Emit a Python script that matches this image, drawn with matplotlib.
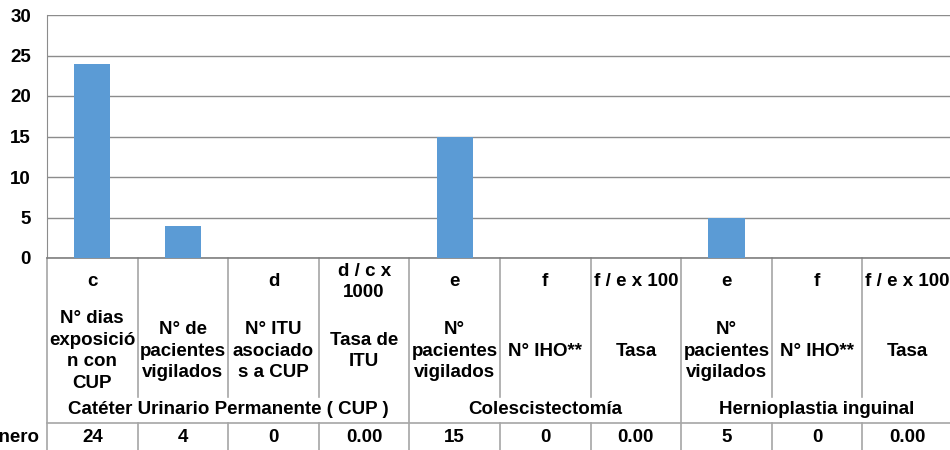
import matplotlib
matplotlib.use("Agg")
import matplotlib.pyplot as plt
from matplotlib import transforms

# datos
valores = [24, 4, 0, 0, 15, 0, 0, 5, 0, 0]
fila_enero = ["24", "4", "0", "0.00", "15", "0", "0.00", "5", "0", "0.00"]
codigos = ["c", "", "d", "d / c x\n1000", "e", "f", "f / e x 100", "e", "f", "f / e x 100"]
etiquetas = [
    "N° dias\nexposició\nn con\nCUP",
    "N° de\npacientes\nvigilados",
    "N° ITU\nasociado\ns a CUP",
    "Tasa de\nITU",
    "N°\npacientes\nvigilados",
    "N° IHO**",
    "Tasa",
    "N°\npacientes\nvigilados",
    "N° IHO**",
    "Tasa",
]
grupos = ["Catéter Urinario Permanente ( CUP )", "Colescistectomía", "Hernioplastia inguinal"]
grupo_cols = [(0, 3), (4, 6), (7, 9)]
fila_nombre = "Enero"

plt.rcParams['font.family'] = ['Liberation Sans', 'DejaVu Sans']
plt.rcParams['font.weight'] = 'bold'

W, H = 950, 450
fig = plt.figure(figsize=(W / 100, H / 100), dpi=100)

# area del grafico en pixeles
x0, x1 = 47, 953
y_top, y_zero = 15, 258
ax = fig.add_axes([x0 / W, 1 - y_zero / H, (x1 - x0) / W, (y_zero - y_top) / H])

n = len(valores)
ax.bar(range(n), valores, width=0.4, color='#5B9BD5', zorder=3)
ax.set_xlim(-0.5, n - 0.5)
ax.set_ylim(0, 30)
ax.set_yticks(range(0, 31, 5))
ax.set_xticks([])
ax.yaxis.grid(True, color='#8C8C8C', linewidth=1)
ax.set_axisbelow(True)
ax.tick_params(axis='y', length=0, pad=11.5, labelsize=13.5)
for lbl in ax.get_yticklabels():
    lbl.set_fontweight('bold')
for s in ['top', 'right']:
    ax.spines[s].set_visible(False)
ax.spines['left'].set_color('#8C8C8C')
ax.spines['bottom'].set_color('#7F7F7F')
ax.spines['bottom'].set_linewidth(1.2)

# tabla de datos
tr = transforms.blended_transform_factory(ax.transData, fig.transFigure)
def fy(py):
    return 1 - py / H

lc = '#A6A6A6'
bordes_grupo = [-0.5, 3.5, 6.5, 9.5]
for b in [i - 0.5 for i in range(n + 1)]:
    if b in bordes_grupo:
        ax.plot([b, b], [fy(258), fy(455)], color=lc, lw=1.2, transform=tr, clip_on=False)
    else:
        ax.plot([b, b], [fy(258), fy(397)], color=lc, lw=1.2, transform=tr, clip_on=False)
        ax.plot([b, b], [fy(423), fy(455)], color=lc, lw=1.2, transform=tr, clip_on=False)
ax.plot([-0.5, 9.5], [fy(423), fy(423)], color=lc, lw=1.2, transform=tr, clip_on=False)

fs = 13.5
for i in range(n):
    ax.text(i, fy(282), codigos[i], transform=tr, ha='center', va='center',
            fontsize=fs, fontweight='bold', linespacing=1.37)
    ax.text(i, fy(351), etiquetas[i], transform=tr, ha='center', va='center',
            fontsize=fs, fontweight='bold', linespacing=1.37)
    ax.text(i, fy(438), fila_enero[i], transform=tr, ha='center', va='center',
            fontsize=fs, fontweight='bold')

for g, (a, b) in zip(grupos, grupo_cols):
    ax.text((a + b) / 2, fy(410), g, transform=tr, ha='center', va='center',
            fontsize=fs, fontweight='bold')

fig.text(40 / W, fy(438), fila_nombre, ha='right', va='center', fontsize=fs, fontweight='bold')

fig.savefig('out.png', dpi=100)
